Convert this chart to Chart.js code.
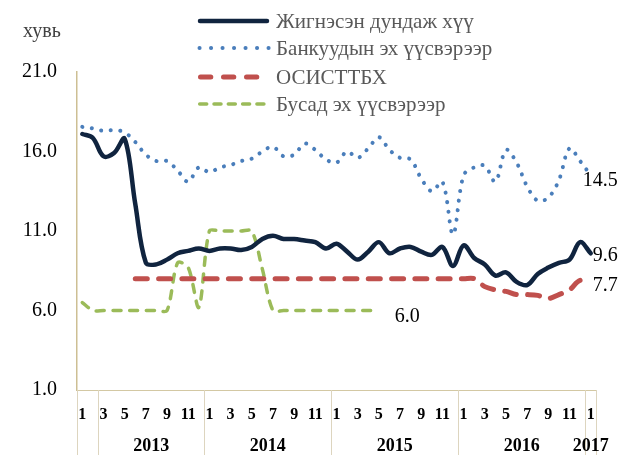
<!DOCTYPE html>
<html>
<head>
<meta charset="utf-8">
<script src="https://cdn.jsdelivr.net/npm/chart.js@4/dist/chart.umd.min.js"></script>
<style>
  html, body { margin: 0; padding: 0; background: #fff; }
  #myChart { display: block; }
</style>
</head>
<body>
<canvas id="myChart" width="621" height="455"></canvas>
<script>
// month labels Jan 2013 .. Jan 2017
const months = ['1','2','3','4','5','6','7','8','9','10','11','12',
                '1','2','3','4','5','6','7','8','9','10','11','12',
                '1','2','3','4','5','6','7','8','9','10','11','12',
                '1','2','3','4','5','6','7','8','9','10','11','12',
                '1'];
const years = ['2013', '2014', '2015', '2016', '2017'];
const yearStart = [2, 12, 24, 36, 48];
const yearEnd = [12, 24, 36, 48, 49];
const yTicks = [1, 6, 11, 16, 21];

const weighted = [17.1, 16.85, 15.7, 15.9, 16.8, 12.7, 9.0, 8.9, 9.2, 9.6, 9.75, 9.9,
                  9.75, 9.9, 9.9, 9.8, 10.0, 10.5, 10.7, 10.5, 10.5, 10.4, 10.3, 9.9,
                  10.2, 9.7, 9.2, 9.7, 10.3, 9.6, 9.9, 10.0, 9.7, 9.5, 10.0, 8.8,
                  10.1, 9.3, 8.9, 8.2, 8.4, 7.8, 7.6, 8.3, 8.7, 9.0, 9.2, 10.3,
                  9.6];
const bankSrc = [17.55, 17.45, 17.3, 17.35, 17.2, 16.6, 15.8, 15.4, 15.4, 14.8, 14.1, 15.0,
                 14.7, 15.0, 15.15, 15.4, 15.55, 16.0, 16.3, 15.7, 15.8, 16.5, 16.1, 15.5,
                 15.3, 16.0, 15.6, 16.2, 16.9, 16.1, 15.6, 15.5, 14.3, 13.5, 14.1, 10.8,
                 14.5, 15.0, 15.1, 14.1, 16.1, 15.3, 13.8, 12.9, 13.1, 14.2, 16.2, 15.4,
                 14.5];
const osisttbx = [null, null, null, null, null, 8.0, 8.0, 8.0, 8.0, 8.0, 8.0, 8.0,
                  8.0, 8.0, 8.0, 8.0, 8.0, 8.0, 8.0, 8.0, 8.0, 8.0, 8.0, 8.0,
                  8.0, 8.0, 8.0, 8.0, 8.0, 8.0, 8.0, 8.0, 8.0, 8.0, 8.0, 8.0,
                  8.0, 8.0, 7.5, 7.3, 7.2, 7.0, 7.0, 6.95, 6.75, 7.0, 7.3, 7.9,
                  7.7];
const otherSrc = [6.5, 6.0, 6.0, 6.0, 6.0, 6.0, 6.0, 6.0, 6.0, 9.0, 8.7, 6.2,
                  11.0, 11.0, 11.0, 11.0, 11.0, 8.6, 6.0, 6.0, 6.0, 6.0, 6.0, 6.0,
                  6.0, 6.0, 6.0, 6.0, 6.0, null, null, null, null, null, null, null,
                  null, null, null, null, null, null, null, null, null, null, null, null,
                  null];

const FONT = "'Liberation Serif', 'Times New Roman', serif";

// legend sample style + end label offsets
const legendStyle = [
    { dash: [], width: 4.5, from: 200, to: 267 },
    { dash: [0.1, 11.4], width: 4, from: 199.5, to: 269 },
    { dash: [10.3, 12.7], width: 5, from: 200.5, to: 258 },
    { dash: [7, 7.3], width: 3.5, from: 199.7, to: 268 }
];
const legendRows = [21, 48, 77, 104];
const endLabelOffset = [[2, 2], [-8, 5], [2, 2], [16, 6]];

const extrasPlugin = {
    id: 'extras',
    afterDraw(chart) {
        const c = chart.ctx;
        const x = chart.scales.x;
        const area = chart.chartArea;
        c.save();

        // unit label
        c.font = '20px ' + FONT;
        c.fillStyle = '#404040';
        c.textAlign = 'center';
        c.textBaseline = 'middle';
        c.fillText('хувь', 42, 32);

        // category separators under the axis
        c.strokeStyle = '#ddd5bf';
        c.lineWidth = 1;
        const bounds = [0].concat(yearStart, [49]);
        bounds.forEach(b => {
            const px = Math.round(x.getPixelForValue(b - 0.5)) + 0.5;
            c.beginPath();
            c.moveTo(px, area.bottom);
            c.lineTo(px, chart.height);
            c.stroke();
        });

        // year labels
        c.font = 'bold 18px ' + FONT;
        c.fillStyle = '#000';
        c.textAlign = 'center';
        years.forEach((yr, i) => {
            const px = (x.getPixelForValue(yearStart[i] - 0.5) + x.getPixelForValue(yearEnd[i] - 0.5)) / 2;
            c.fillText(yr, px, 446);
        });

        // legend
        chart.data.datasets.forEach((ds, i) => {
            const st = legendStyle[i];
            const ly = legendRows[i];
            c.beginPath();
            c.setLineDash(st.dash);
            c.lineCap = 'round';
            c.lineWidth = st.width;
            c.strokeStyle = ds.borderColor;
            c.moveTo(st.from, ly);
            c.lineTo(st.to, ly);
            c.stroke();
            c.setLineDash([]);
            c.font = '21px ' + FONT;
            c.fillStyle = '#595959';
            c.textAlign = 'left';
            c.fillText(ds.label, 276, ly + 1);
        });

        // value at the end of each line
        c.font = '20px ' + FONT;
        c.fillStyle = '#000';
        c.textAlign = 'left';
        chart.data.datasets.forEach((ds, i) => {
            let last = ds.data.length - 1;
            while (last >= 0 && ds.data[last] === null) last--;
            const pt = chart.getDatasetMeta(i).data[last];
            c.fillText(ds.data[last].toFixed(1), pt.x + endLabelOffset[i][0], pt.y + endLabelOffset[i][1]);
        });

        c.restore();
    }
};

const ctx = document.getElementById('myChart').getContext('2d');
const myChart = new Chart(ctx, {
    type: 'line',
    data: {
        labels: months,
        datasets: [{
            label: 'Жигнэсэн дундаж хүү',
            data: weighted,
            borderColor: '#10243f',
            borderWidth: 4.5,
            borderCapStyle: 'round',
            tension: 0.35,
            pointRadius: 0
        }, {
            label: 'Банкуудын эх үүсвэрээр',
            data: bankSrc,
            borderColor: '#4a7ebb',
            borderWidth: 4,
            borderDash: [0.1, 9.5],
            borderCapStyle: 'round',
            tension: 0.35,
            pointRadius: 0
        }, {
            label: 'ОСИСТТБХ',
            data: osisttbx,
            borderColor: '#c0504d',
            borderWidth: 5,
            borderDash: [12, 11.3],
            borderCapStyle: 'round',
            tension: 0.35,
            pointRadius: 0
        }, {
            label: 'Бусад эх үүсвэрээр',
            data: otherSrc,
            borderColor: '#9bbb59',
            borderWidth: 3.5,
            borderDash: [8, 8.7],
            borderCapStyle: 'round',
            tension: 0.3,
            pointRadius: 0
        }]
    },
    options: {
        responsive: false,
        animation: false,
        layout: {
            padding: { top: 72, right: 25, left: 0, bottom: 0 }
        },
        plugins: {
            legend: { display: false },
            tooltip: { enabled: false }
        },
        scales: {
            x: {
                offset: true,
                grid: { display: false, drawTicks: false },
                border: { display: true, color: '#d3c8a3', width: 1 },
                ticks: {
                    autoSkip: false,
                    maxRotation: 0,
                    padding: 15,
                    color: '#000',
                    font: { family: FONT, size: 16, weight: 'bold' },
                    callback: function (v, i) {
                        return i % 2 === 0 ? months[i] : '';
                    }
                },
                afterFit: function (scale) {
                    scale.height = 65;
                }
            },
            y: {
                min: 1,
                max: 21,
                grid: { display: false, drawTicks: false },
                border: { display: true, color: '#cdbf94', width: 1.5 },
                afterBuildTicks: function (scale) {
                    scale.ticks = yTicks.map(v => ({ value: v }));
                },
                ticks: {
                    padding: 20,
                    color: '#000',
                    font: { family: FONT, size: 20 },
                    callback: function (v) {
                        return Number(v).toFixed(1);
                    }
                },
                afterFit: function (scale) {
                    scale.width = 77;
                }
            }
        }
    },
    plugins: [extrasPlugin]
});
</script>
</body>
</html>
